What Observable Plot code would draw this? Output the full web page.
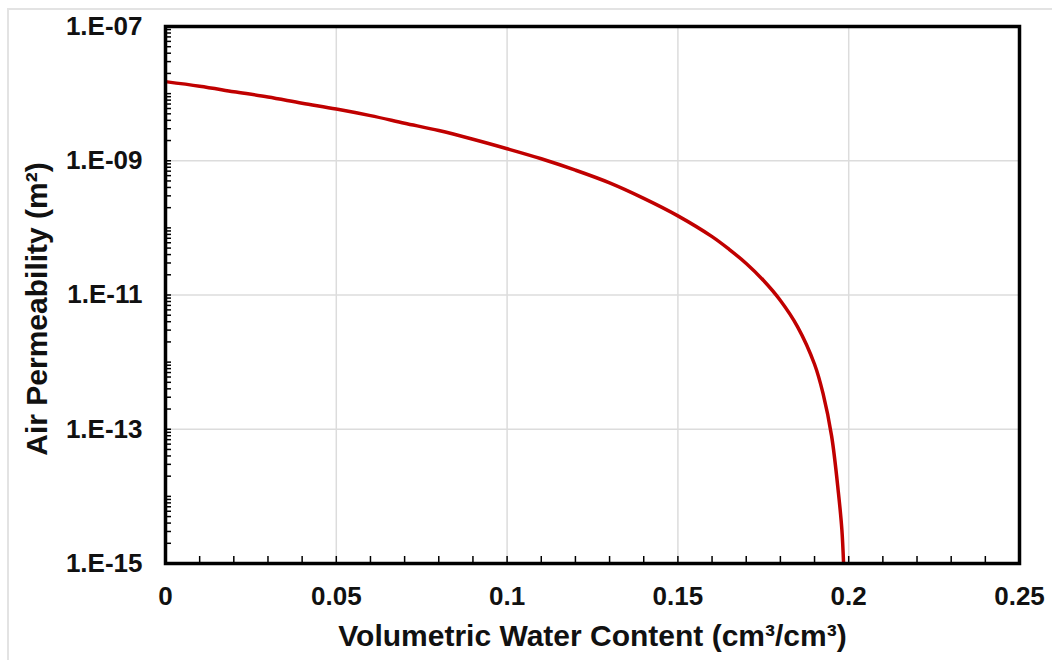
<!DOCTYPE html>
<html>
<head>
<meta charset="utf-8">
<script src="https://cdn.jsdelivr.net/npm/d3@7"></script>
<script src="https://cdn.jsdelivr.net/npm/@observablehq/plot@0.6"></script>
<style>
  html, body { margin: 0; padding: 0; background: #fff; }
  #wrap { position: relative; width: 1052px; height: 660px; overflow: hidden; }
  #border { position: absolute; left: 7px; top: 8px; width: 1100px; height: 700px; border: 2px solid #e3e3e3; box-sizing: border-box; }
  #chart { position: absolute; left: 0; top: 0; }
</style>
</head>
<body>
<div id="wrap"><div id="border"></div><div id="chart"></div></div>
<script>
// Volumetric water content (cm3/cm3)
const waterContent = [0, 0.01, 0.02, 0.03, 0.04, 0.05, 0.06, 0.07, 0.08, 0.09, 0.10, 0.11, 0.12, 0.13, 0.14, 0.15, 0.16, 0.165, 0.17, 0.175, 0.18, 0.185, 0.19, 0.1925, 0.195, 0.197, 0.198, 0.1985];
// Air permeability (m2)
const airPermeability = [1.51e-8, 1.29e-8, 1.07e-8, 8.9e-9, 7.2e-9, 5.9e-9, 4.7e-9, 3.63e-9, 2.82e-9, 2.09e-9, 1.51e-9, 1.07e-9, 7.24e-10, 4.68e-10, 2.75e-10, 1.51e-10, 7.4e-11, 4.79e-11, 2.95e-11, 1.66e-11, 8.3e-12, 3.39e-12, 9.3e-13, 3.39e-13, 7.9e-14, 1.12e-14, 3.2e-15, 1.0e-15];

const xTickValues = [0, 0.05, 0.1, 0.15, 0.2, 0.25];
const xTickLabels = ["0", "0.05", "0.1", "0.15", "0.2", "0.25"];
const yTickValues = [1e-15, 1e-13, 1e-11, 1e-9, 1e-7];
const yTickLabels = ["1.E-15", "1.E-13", "1.E-11", "1.E-09", "1.E-07"];
const xGrid = [0.05, 0.1, 0.15, 0.2];
const yGrid = [1e-13, 1e-11, 1e-9];
const xTitle = "Volumetric Water Content (cm³/cm³)";
const yTitle = "Air Permeability (m²)";

const data = waterContent.map((x, i) => ({x, y: airPermeability[i]}));
const xMinor = d3.range(1, 25).map(i => i / 100);
const yMinor = [];
for (let e = -15; e < -7; e++) for (let m = 1; m <= 9; m++) yMinor.push(m * Math.pow(10, e));

const font = "'Liberation Sans', Arial, sans-serif";

const chart = Plot.plot({
  width: 1052,
  height: 660,
  marginLeft: 165,
  marginRight: 33,
  marginTop: 26,
  marginBottom: 97,
  style: {fontFamily: font, background: "transparent"},
  x: {domain: [0, 0.25]},
  y: {type: "log", domain: [1e-15, 1e-7]},
  marks: [
    Plot.gridX(xGrid, {stroke: "#dcdcdc", strokeOpacity: 1, strokeWidth: 1.5}),
    Plot.gridY(yGrid, {stroke: "#dcdcdc", strokeOpacity: 1, strokeWidth: 1.5}),
    Plot.axisX(xMinor, {tickSize: -7, strokeWidth: 1.5, text: null, label: null}),
    Plot.axisY(yMinor, {tickSize: -6, strokeWidth: 1.5, text: null, label: null}),
    Plot.axisX(xTickValues, {tickSize: 0, tickPadding: 23, fontSize: 26, fontWeight: "bold", fill: "#111",
      tickFormat: d => xTickLabels[xTickValues.indexOf(d)], label: null}),
    Plot.axisY(yTickValues, {tickSize: 0, tickPadding: 23, fontSize: 26, fontWeight: "bold", fill: "#111",
      tickFormat: d => yTickLabels[yTickValues.indexOf(d)], label: null}),
    Plot.line(data, {x: "x", y: "y", stroke: "#c00000", strokeWidth: 3.5, curve: "catmull-rom", clip: true}),
    Plot.frame({stroke: "#000", strokeWidth: 3.5}),
    Plot.text([xTitle], {frameAnchor: "bottom", dy: 73, fontSize: 30, fontWeight: "bold", fill: "#111", lineAnchor: "middle"}),
    Plot.text([yTitle], {frameAnchor: "left", dx: -128, dy: 14, rotate: -90, textAnchor: "middle", fontSize: 30, fontWeight: "bold", fill: "#111", lineAnchor: "middle"})
  ]
});
document.getElementById("chart").appendChild(chart);
</script>
</body>
</html>
